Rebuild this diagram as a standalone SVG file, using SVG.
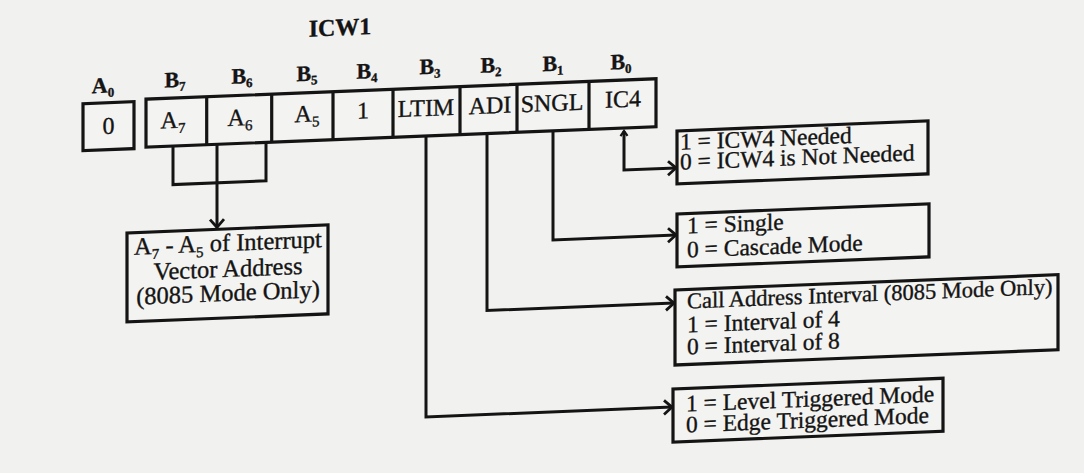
<svg xmlns="http://www.w3.org/2000/svg" width="1084" height="473" viewBox="0 0 1084 473">
<style>
.t{font-family:"Liberation Serif","Times New Roman",serif;fill:#141414;stroke:#141414;stroke-width:0.35}
.b{font-weight:bold}
.lab{font-size:22px;font-weight:bold;text-anchor:middle}
.cell{font-size:24px;text-anchor:middle}
.vb{font-size:24.5px;text-anchor:middle}
.rt{font-size:23.5px}
.rc{font-size:22.5px}
.box{fill:#f3f3f1;stroke:#141414;stroke-width:3.2}
.div{stroke:#141414;stroke-width:3.2}
.con{fill:none;stroke:#141414;stroke-width:3}
</style>
<defs>
<marker id="arr" markerUnits="userSpaceOnUse" markerWidth="14" markerHeight="18" refX="11" refY="9" orient="auto">
<path d="M3,2 L11,9 L3,16" fill="none" stroke="#141414" stroke-width="2.8"/>
</marker>
<marker id="up" markerUnits="userSpaceOnUse" markerWidth="10" markerHeight="10" refX="7" refY="5" orient="auto-start-reverse">
<path d="M2,1.5 L7,5 L2,8.5" fill="none" stroke="#141414" stroke-width="2.2"/>
</marker>
</defs>
<rect width="1084" height="473" fill="#f1f1ef"/>
<g transform="matrix(1,-0.04,0,1,0,16)">
<text id="title" class="t b" x="340" y="33" font-size="24" text-anchor="middle">ICW1</text>

<g id="bit-a0">
<text class="t lab" x="103" y="81">A<tspan dy="4" font-size="13">0</tspan></text>
<rect class="box" x="83" y="91" width="51" height="47"/>
<text class="t cell" x="108.5" y="122">0</text>
</g>

<g id="register">
<rect class="box" x="146" y="89" width="510" height="48"/>
<g id="cell-b7">
<text class="t lab" x="175" y="78">B<tspan dy="4" font-size="13">7</tspan></text>
<text class="t cell" x="173" y="119">A<tspan dy="5" font-size="15">7</tspan></text>
</g>
<g id="cell-b6">
<line class="div" x1="206.7" y1="89" x2="206.7" y2="137"/>
<text class="t lab" x="242" y="77">B<tspan dy="4" font-size="13">6</tspan></text>
<text class="t cell" x="240" y="119">A<tspan dy="5" font-size="15">6</tspan></text>
</g>
<g id="cell-b5">
<line class="div" x1="271.7" y1="89" x2="271.7" y2="137"/>
<text class="t lab" x="307" y="77">B<tspan dy="4" font-size="13">5</tspan></text>
<text class="t cell" x="307" y="118">A<tspan dy="5" font-size="15">5</tspan></text>
</g>
<g id="cell-b4">
<line class="div" x1="333" y1="89" x2="333" y2="137"/>
<text class="t lab" x="367" y="77">B<tspan dy="4" font-size="13">4</tspan></text>
<text class="t cell" x="363" y="117">1</text>
</g>
<g id="cell-b3">
<line class="div" x1="393" y1="89" x2="393" y2="137"/>
<text class="t lab" x="430" y="75">B<tspan dy="4" font-size="13">3</tspan></text>
<text class="t cell" x="426" y="117">LTIM</text>
</g>
<g id="cell-b2">
<line class="div" x1="460" y1="89" x2="460" y2="137"/>
<text class="t lab" x="491" y="76">B<tspan dy="4" font-size="13">2</tspan></text>
<text class="t cell" x="490" y="117">ADI</text>
</g>
<g id="cell-b1">
<line class="div" x1="517" y1="89" x2="517" y2="137"/>
<text class="t lab" x="553" y="77">B<tspan dy="4" font-size="13">1</tspan></text>
<text class="t cell" x="552" y="117">SNGL</text>
</g>
<g id="cell-b0">
<line class="div" x1="589" y1="89" x2="589" y2="137"/>
<text class="t lab" x="621" y="78">B<tspan dy="4" font-size="13">0</tspan></text>
<text class="t cell" x="623" y="116">IC4</text>
</g>
</g>

<g id="connectors">
<path class="con" d="M173,137 V175.5 H266 V137"/>
<path class="con" d="M217,137 V220" marker-end="url(#arr)"/>
<path class="con" d="M426,137 V418 H672" marker-end="url(#arr)"/>
<path class="con" d="M487,137 V314 H674" marker-end="url(#arr)"/>
<path class="con" d="M553,137 V246 H676" marker-end="url(#arr)"/>
<path class="con" d="M624,140 V179 H676" marker-start="url(#up)" marker-end="url(#arr)"/>
</g>

<g id="vector-box">
<rect class="box" x="127" y="222" width="201" height="89"/>
<text class="t vb" x="228" y="244">A<tspan dy="5" font-size="15">7</tspan><tspan dy="-5"> - A</tspan><tspan dy="5" font-size="15">5</tspan><tspan dy="-5"> of Interrupt</tspan></text>
<text class="t vb" x="228" y="270">Vector Address</text>
<text class="t vb" x="228" y="294">(8085 Mode Only)</text>
</g>

<g id="ic4-box">
<rect class="box" x="677" y="142" width="251" height="53"/>
<text class="t rt" x="680" y="161">1 = ICW4 Needed</text>
<text class="t rt" x="680" y="181">0 = ICW4 is Not Needed</text>
</g>

<g id="sngl-box">
<rect class="box" x="677" y="225" width="252" height="53"/>
<text class="t rt" x="687" y="245">1 = Single</text>
<text class="t rt" x="687" y="269">0 = Cascade Mode</text>
</g>

<g id="adi-box">
<rect class="box" x="675" y="301" width="383" height="75"/>
<text class="t rc" x="687" y="320">Call Address Interval (8085 Mode Only)</text>
<text class="t rt" x="687" y="344">1 = Interval of 4</text>
<text class="t rt" x="687" y="366">0 = Interval of 8</text>
</g>

<g id="ltim-box">
<rect class="box" x="673" y="400" width="270" height="53"/>
<text class="t rt" x="686" y="423">1 = Level Triggered Mode</text>
<text class="t rt" x="686" y="444">0 = Edge Triggered Mode</text>
</g>
</g>
</svg>
